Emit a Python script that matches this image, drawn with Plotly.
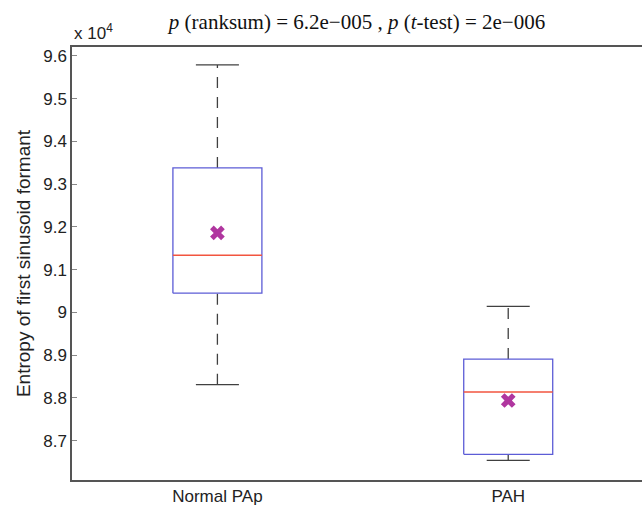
import plotly.graph_objects as go

groups = ["Normal PAp", "PAH"]
positions = [1, 2]
upper_whisker = [9.579, 9.014]
q3 = [9.338, 8.891]
median = [9.134, 8.814]
q1 = [9.045, 8.668]
lower_whisker = [8.831, 8.654]
mean = [9.186, 8.794]
ytick_vals = [8.7, 8.8, 8.9, 9.0, 9.1, 9.2, 9.3, 9.4, 9.5, 9.6]
ytick_text = ["8.7", "8.8", "8.9", "9", "9.1", "9.2", "9.3", "9.4", "9.5", "9.6"]

BOX_HALF = 0.153
CAP_HALF = 0.074
BOX_COLOR = "#5c5cd6"
MED_COLOR = "#f2553f"
WHISK_COLOR = "#404040"
MEAN_COLOR = "#b0369f"

fig = go.Figure()

for i, g in enumerate(groups):
    x0 = positions[i]
    # whiskers (dashed)
    fig.add_trace(go.Scatter(x=[x0, x0], y=[q3[i], upper_whisker[i]], mode="lines",
                             line=dict(color=WHISK_COLOR, width=1.3, dash="11px,9px"),
                             showlegend=False, hoverinfo="skip"))
    fig.add_trace(go.Scatter(x=[x0, x0], y=[lower_whisker[i], q1[i]], mode="lines",
                             line=dict(color=WHISK_COLOR, width=1.3, dash="11px,9px"),
                             showlegend=False, hoverinfo="skip"))
    # caps
    for yv in (upper_whisker[i], lower_whisker[i]):
        fig.add_trace(go.Scatter(x=[x0 - CAP_HALF, x0 + CAP_HALF], y=[yv, yv], mode="lines",
                                 line=dict(color=WHISK_COLOR, width=1.3),
                                 showlegend=False, hoverinfo="skip"))
    # box
    fig.add_trace(go.Scatter(x=[x0 - BOX_HALF, x0 + BOX_HALF, x0 + BOX_HALF, x0 - BOX_HALF, x0 - BOX_HALF],
                             y=[q1[i], q1[i], q3[i], q3[i], q1[i]], mode="lines",
                             line=dict(color=BOX_COLOR, width=1.3),
                             showlegend=False, hoverinfo="skip"))
    # median
    fig.add_trace(go.Scatter(x=[x0 - BOX_HALF, x0 + BOX_HALF], y=[median[i], median[i]], mode="lines",
                             line=dict(color=MED_COLOR, width=1.5),
                             showlegend=False, hoverinfo="skip"))

# means
fig.add_trace(go.Scatter(x=positions, y=mean, mode="markers",
                         marker=dict(symbol="x", size=13, color=MEAN_COLOR, line=dict(width=0)),
                         showlegend=False, hoverinfo="skip"))

fig.update_layout(
    width=642, height=506,
    margin=dict(l=72, r=0, t=47, b=24),
    plot_bgcolor="white", paper_bgcolor="white",
    font=dict(family="Liberation Sans, Arial, sans-serif", size=17, color="#222"),
    title=dict(text="<i>p</i> (ranksum) = 6.2e\u2212005 , <i>p</i> (<i>t</i>-test) = 2e\u2212006",
               font=dict(family="Liberation Serif, Times New Roman, serif", size=21, color="#111"),
               x=0.5, xref="paper", xanchor="center", y=0.958, yref="container", yanchor="middle"),
    xaxis=dict(range=[0.5, 2.46], tickvals=positions, ticktext=groups, showline=True,
               linecolor="#555", linewidth=1.5, mirror=True, ticks="", showgrid=False,
               zeroline=False, tickfont=dict(size=17, color="#222")),
    yaxis=dict(range=[8.608, 9.621], tickvals=ytick_vals, ticktext=ytick_text, showline=True,
               linecolor="#555", linewidth=1.5, ticks="inside", ticklen=5, tickcolor="#888",
               showgrid=False, zeroline=False, tickfont=dict(size=17, color="#222"),
               title=dict(text="Entropy of first sinusoid formant", font=dict(size=19, color="#222"), standoff=8)),
)

fig.add_annotation(text="x 10<sup>4</sup>", xref="paper", yref="paper", x=0.0, y=1.0,
                   xanchor="left", yanchor="bottom", yshift=2, showarrow=False,
                   font=dict(size=17, color="#222"))

fig.write_html("out.html")
